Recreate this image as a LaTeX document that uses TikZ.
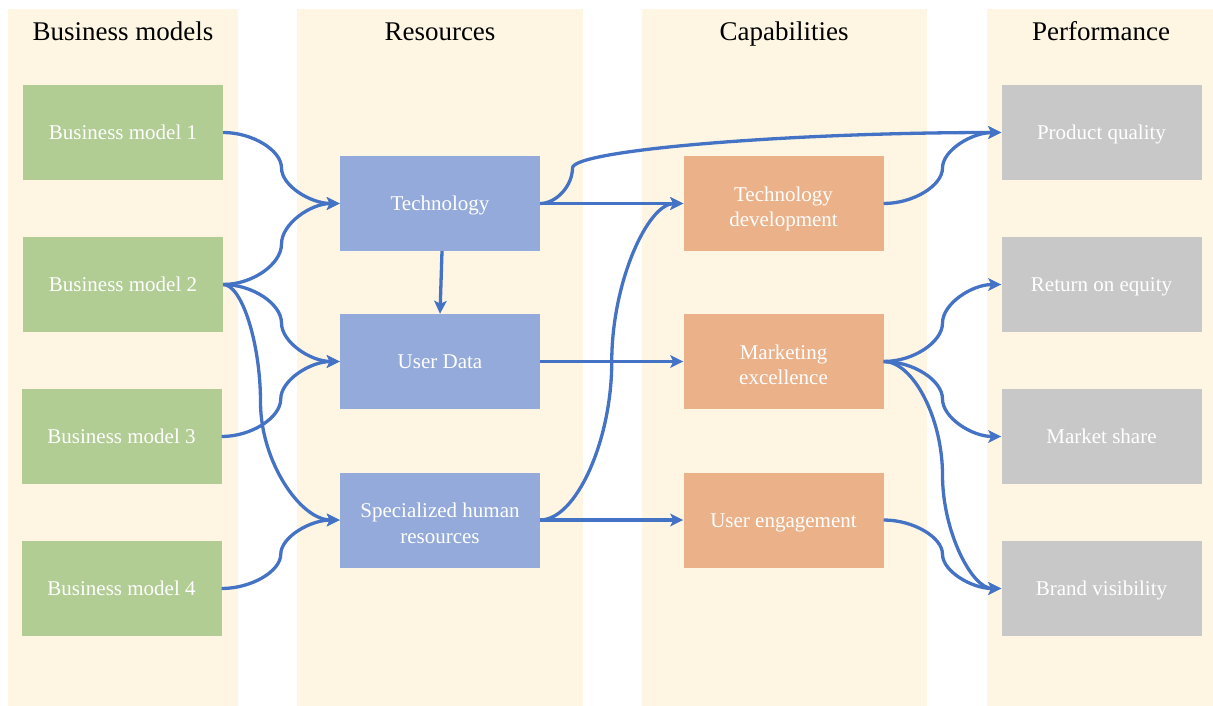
\documentclass[tikz,border=0pt]{standalone}
\usepackage{fontspec}
\setmainfont{Liberation Serif}
\usetikzlibrary{arrows.meta,calc}

\definecolor{lanebg}{RGB}{254,246,227}
\definecolor{bmgreen}{RGB}{177,205,148}
\definecolor{resblue}{RGB}{148,170,218}
\definecolor{caporange}{RGB}{235,177,137}
\definecolor{perfgray}{RGB}{200,200,200}
\definecolor{flowblue}{RGB}{68,114,196}

% line strut spanning the font's ascent and descent, so text sits centred like in a slide box
\newcommand\linestrut{\rule[-0.216em]{0pt}{1.107em}}
% taller strut for the first line of two-line labels
\newcommand\firststrut{\rule{0pt}{\dimexpr0.891em+7pt\relax}}

\tikzset{
  lane/.style={fill=lanebg, draw=none},
  lanetitle/.style={font=\fontsize{27}{32}\selectfont, anchor=base, inner sep=0pt, text=black},
  box/.style={rectangle, minimum width=200pt, minimum height=95pt, inner sep=2pt,
    align=center, text=white, font=\fontsize{21}{25.3}\selectfont,
    execute at begin node=\linestrut},
  bmbox/.style={box, fill=bmgreen},
  resbox/.style={box, fill=resblue},
  capbox/.style={box, fill=caporange},
  perfbox/.style={box, fill=perfgray},
  flow/.style={draw=flowblue, line width=3.3pt,
    -{Stealth[length=13pt, width=12.5pt, inset=3pt]}},
  % curved elbow connector: horizontal at both ends, vertical at a fraction #1 of the run
  cc/.style={to path={
    let \p1=(\tikztostart), \p2=(\tikztotarget),
        \n1={\x1+#1*(\x2-\x1)},
        \n2={(\x1+\n1)/2}, \n3={(\n1+\x2)/2},
        \n4={0.75*\y1+0.25*\y2}, \n5={0.5*\y1+0.5*\y2}, \n6={0.25*\y1+0.75*\y2} in
    .. controls (\n2,\y1) and (\n1,\n4) .. (\n1,\n5)
    .. controls (\n1,\n6) and (\n3,\y2) .. (\tikztotarget)}},
  cc/.default=0.5
}

\begin{document}
\begin{tikzpicture}[x=1pt, y=1pt]
  \useasboundingbox (0,0) rectangle (1213,-706);

  % column backgrounds
  \fill[lane] (8,-9.5) rectangle (238,-706);
  \fill[lane] (297,-9.5) rectangle (583,-706);
  \fill[lane] (642,-9.5) rectangle (927,-706);
  \fill[lane] (987,-9.5) rectangle (1213,-706);

  % column titles
  \node[lanetitle] (t1) at (123,-40.5) {Business models};
  \node[lanetitle] (t2) at (440,-40.5) {Resources};
  \node[lanetitle] (t3) at (784,-40.5) {Capabilities};
  \node[lanetitle] (t4) at (1101,-40.5) {Performance};

  % business models
  \node[bmbox] (bm1) at (123,-132.5) {Business model 1};
  \node[bmbox] (bm2) at (123,-284.5) {Business model 2};
  \node[bmbox] (bm3) at (121.5,-436.5) {Business model 3};
  \node[bmbox] (bm4) at (121.5,-588.5) {Business model 4};

  % resources
  \node[resbox] (tech) at (440,-203.5) {Technology};
  \node[resbox] (ud) at (440,-361.5) {User Data};
  \node[resbox] (shr) at (440,-520) {\firststrut Specialized human\\\linestrut resources};

  % capabilities
  \node[capbox] (td) at (783.5,-203.5) {\firststrut Technology\\\linestrut development};
  \node[capbox] (me) at (783.5,-361.5) {\firststrut Marketing\\\linestrut excellence};
  \node[capbox] (ue) at (783.5,-520) {User engagement};

  % performance
  \node[perfbox] (pq) at (1101.5,-132.5) {Product quality};
  \node[perfbox] (roe) at (1101.5,-284.5) {Return on equity};
  \node[perfbox] (ms) at (1101.5,-436.5) {Market share};
  \node[perfbox] (bv) at (1101.5,-588.5) {Brand visibility};

  % business models -> resources
  \draw[flow] (bm1.east) to[cc] (tech.west);
  \draw[flow] (bm2.east) to[cc] (tech.west);
  \draw[flow] (bm2.east) to[cc] (ud.west);
  \draw[flow] (bm2.east) to[cc=0.32] (shr.west);
  \draw[flow] (bm3.east) to[cc] (ud.west);
  \draw[flow] (bm4.east) to[cc] (shr.west);

  % resources
  \draw[flow] ([xshift=2pt]tech.south) -- (ud.north);

  % resources -> capabilities / performance
  \draw[flow] (tech.east) -- (td.west);
  \draw[flow] (tech.east) to[cc=0.07] (pq.west);
  \draw[flow] (ud.east) -- (me.west);
  \draw[flow] (shr.east) to[cc] (td.west);
  \draw[flow] (shr.east) -- (ue.west);

  % capabilities -> performance
  \draw[flow] (td.east) to[cc] (pq.west);
  \draw[flow] (me.east) to[cc] (roe.west);
  \draw[flow] (me.east) to[cc] (ms.west);
  \draw[flow] (me.east) to[cc] (bv.west);
  \draw[flow] (ue.east) to[cc] (bv.west);
\end{tikzpicture}
\end{document}
